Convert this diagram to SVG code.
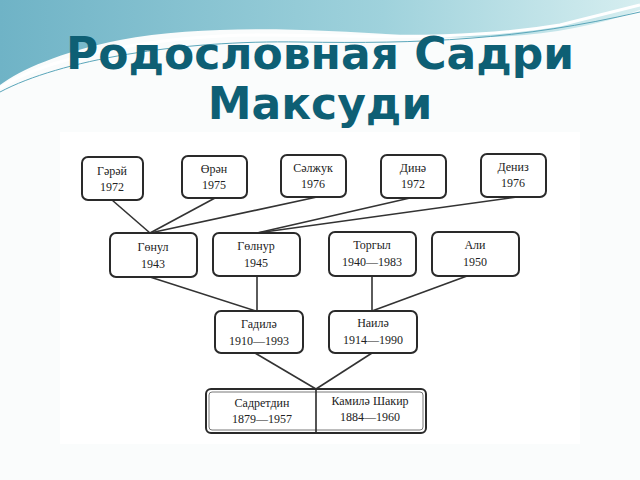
<svg xmlns="http://www.w3.org/2000/svg" width="640" height="480" viewBox="0 0 640 480">
<defs>
<linearGradient id="w" x1="0" y1="0" x2="1" y2="0"><stop offset="0" stop-color="#6fb3c6"/><stop offset="0.6" stop-color="#9fd2dc"/><stop offset="1" stop-color="#d6eef0"/></linearGradient>
<style>
.b{fill:#fff;stroke:#2a2a2a;stroke-width:2}
.t{font-family:"Liberation Serif",serif;font-size:12px;fill:#222;text-anchor:middle}
.c line{stroke:#333;stroke-width:1.6}
</style>
</defs>
<rect width="640" height="480" fill="#fafcfc"/>
<path d="M0,0 H640 V10 C560,40 470,40 400,35 C300,28 200,25 120,40 C60,52 20,70 0,85 Z" fill="url(#w)"/>
<path d="M0,88 C40,60 150,35 260,35 C360,35 460,42 560,25 L640,5" fill="none" stroke="#fff" stroke-width="3"/>
<path d="M0,92 C60,60 180,40 300,42 C420,44 520,40 640,12" fill="none" stroke="#5aa6ba" stroke-width="1"/>
<g font-family="DejaVu Sans,sans-serif" font-weight="bold" font-size="44" fill="#0e5f74" text-anchor="middle">
<text x="320" y="69">Родословная Садри</text>
<text x="320" y="119">Максуди</text>
</g>
<rect x="60" y="132" width="520" height="312" fill="#fff"/>
<g class="c">
<line x1="112" y1="200" x2="150" y2="233"/><line x1="215" y1="198" x2="150" y2="233"/><line x1="317" y1="197" x2="150" y2="233"/>
<line x1="410" y1="198" x2="257" y2="233"/><line x1="517" y1="197" x2="257" y2="233"/>
<line x1="150" y1="277" x2="256" y2="311"/><line x1="257" y1="276" x2="257" y2="311"/>
<line x1="372" y1="276" x2="372" y2="311"/><line x1="467" y1="276" x2="372" y2="311"/>
<line x1="255" y1="353" x2="316" y2="389"/><line x1="372" y1="353" x2="316" y2="389"/>
</g>
<g id="n1"><rect class="b" x="82" y="157" width="61" height="43" rx="6"/><text class="t" x="112" y="175">Гәрәй</text><text class="t" x="112" y="191">1972</text></g>
<g id="n2"><rect class="b" x="182" y="156" width="65" height="42" rx="6"/><text class="t" x="214" y="173">Өрән</text><text class="t" x="214" y="189">1975</text></g>
<g id="n3"><rect class="b" x="281" y="155" width="65" height="42" rx="6"/><text class="t" x="313" y="172">Сәлжук</text><text class="t" x="313" y="188">1976</text></g>
<g id="n4"><rect class="b" x="381" y="155" width="65" height="43" rx="6"/><text class="t" x="413" y="172">Динә</text><text class="t" x="413" y="188">1972</text></g>
<g id="n5"><rect class="b" x="481" y="154" width="65" height="43" rx="6"/><text class="t" x="513" y="171">Дениз</text><text class="t" x="513" y="187">1976</text></g>
<g id="n6"><rect class="b" x="110" y="233" width="87" height="44" rx="6"/><text class="t" x="153" y="251">Гөнул</text><text class="t" x="153" y="268">1943</text></g>
<g id="n7"><rect class="b" x="213" y="233" width="87" height="43" rx="6"/><text class="t" x="256" y="250">Гөлнур</text><text class="t" x="256" y="267">1945</text></g>
<g id="n8"><rect class="b" x="329" y="232" width="87" height="44" rx="6"/><text class="t" x="372" y="249">Торгыл</text><text class="t" x="372" y="266">1940—1983</text></g>
<g id="n9"><rect class="b" x="432" y="232" width="87" height="44" rx="6"/><text class="t" x="475" y="249">Али</text><text class="t" x="475" y="266">1950</text></g>
<g id="n10"><rect class="b" x="215" y="311" width="88" height="42" rx="6"/><text class="t" x="259" y="328">Гадилә</text><text class="t" x="259" y="345">1910—1993</text></g>
<g id="n11"><rect class="b" x="329" y="311" width="88" height="42" rx="6"/><text class="t" x="373" y="327">Наилә</text><text class="t" x="373" y="344">1914—1990</text></g>
<g id="n12"><rect class="b" x="206" y="389" width="220" height="44" rx="5"/><rect x="209" y="392" width="214" height="38" rx="3" fill="none" stroke="#555" stroke-width="0.8"/><line x1="316" y1="389" x2="316" y2="433" stroke="#2a2a2a" stroke-width="1.6"/><text class="t" x="262" y="407">Садретдин</text><text class="t" x="262" y="423">1879—1957</text><text class="t" x="370" y="405">Камилә  Шакир</text><text class="t" x="370" y="421">1884—1960</text></g>
</svg>
